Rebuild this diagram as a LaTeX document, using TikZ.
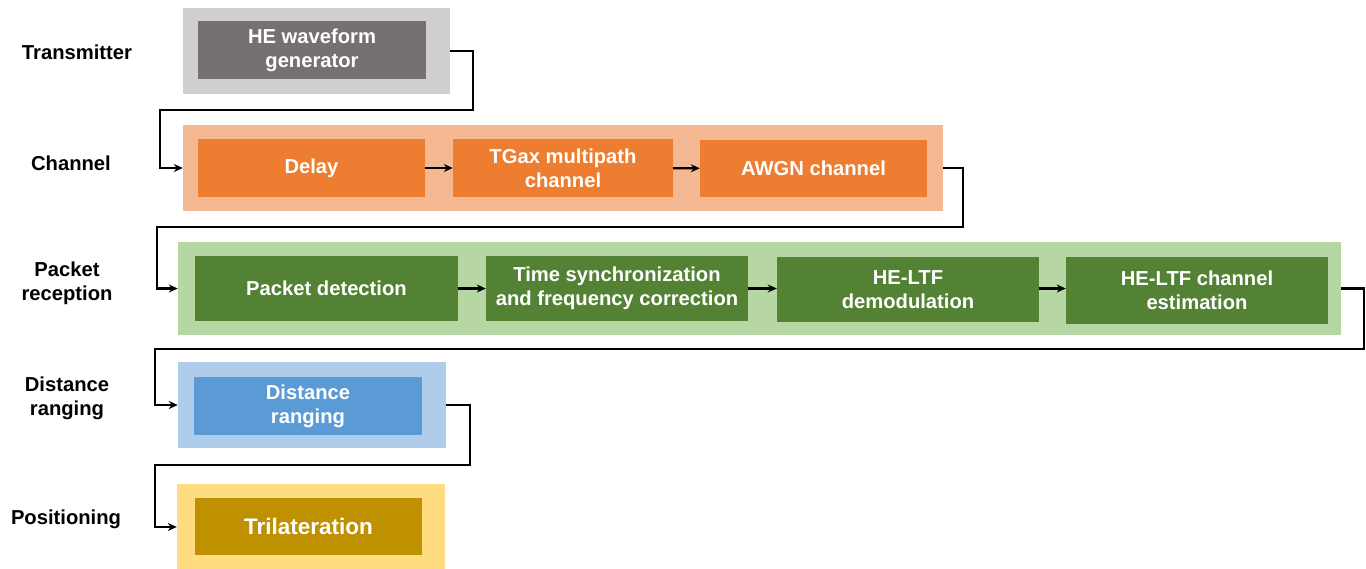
\documentclass[tikz,border=0pt]{standalone}
\usepackage{fontspec}
\setmainfont{Liberation Sans}
\usetikzlibrary{arrows.meta}
\definecolor{grayO}{HTML}{D0CECE}
\definecolor{grayI}{HTML}{767171}
\definecolor{orgO}{HTML}{F4B993}
\definecolor{orgI}{HTML}{ED7D31}
\definecolor{grnO}{HTML}{B6D7A4}
\definecolor{grnI}{HTML}{548235}
\definecolor{bluO}{HTML}{AFCDEA}
\definecolor{bluI}{HTML}{5B9BD5}
\definecolor{yelO}{HTML}{FFDC80}
\definecolor{yelI}{HTML}{BF9000}
\tikzset{
  outerbox/.style={rectangle, draw=none, inner sep=0pt},
  innerbox/.style={rectangle, draw=none, inner sep=0pt, text=white, align=center,
     font=\fontsize{20.2}{24}\selectfont\bfseries},
  rowlabel/.style={align=center, font=\fontsize{20.2}{24}\selectfont\bfseries, text=black},
  conn/.style={line width=2.2pt, -{Stealth[length=9pt,width=8pt]}, line join=miter},
}
\begin{document}
\begin{tikzpicture}[x=1pt,y=-1pt]
\useasboundingbox (0,0) rectangle (1366,568);
% outer boxes
\node[outerbox, fill=grayO, minimum width=267pt, minimum height=86pt] (tx) at (316.5,51) {};
\node[outerbox, fill=orgO, minimum width=760pt, minimum height=86pt] (ch) at (563,168) {};
\node[outerbox, fill=grnO, minimum width=1163pt, minimum height=93pt] (pr) at (759.5,288.5) {};
\node[outerbox, fill=bluO, minimum width=268pt, minimum height=86pt] (dr) at (312,405) {};
\node[outerbox, fill=yelO, minimum width=268pt, minimum height=86pt] (po) at (311,527) {};
% inner boxes
\node[innerbox, fill=grayI, minimum width=228pt, minimum height=58pt] (hewg) at (312,50) {HE waveform\\generator};
\node[innerbox, fill=orgI, minimum width=227pt, minimum height=58pt] (delay) at (311.5,168) {Delay};
\node[innerbox, fill=orgI, minimum width=220pt, minimum height=58pt] (tgax) at (563,168) {TGax multipath\\channel};
\node[innerbox, fill=orgI, minimum width=227pt, minimum height=57pt] (awgn) at (813.5,168.5) {AWGN channel};
\node[innerbox, fill=grnI, minimum width=263pt, minimum height=65pt] (pd) at (326.5,288.5) {Packet detection};
\node[innerbox, fill=grnI, minimum width=262pt, minimum height=65pt] (ts) at (617,288.5) {Time synchronization\\and frequency correction};
\node[innerbox, fill=grnI, minimum width=262pt, minimum height=65pt] (hd) at (908,289.5) {HE-LTF\\demodulation};
\node[innerbox, fill=grnI, minimum width=262pt, minimum height=67pt] (hc) at (1197,290.5) {HE-LTF channel\\estimation};
\node[innerbox, fill=bluI, minimum width=228pt, minimum height=58pt] (dri) at (308,406) {Distance\\ranging};
\node[innerbox, fill=yelI, minimum width=227pt, minimum height=57pt, font=\fontsize{22.5}{26}\selectfont\bfseries] (tri) at (308.5,526.5) {Trilateration};
% row labels
\node[rowlabel] (l1) at (77,52) {Transmitter};
\node[rowlabel] (l2) at (71,163) {Channel};
\node[rowlabel] (l3) at (67,283) {Packet\\reception};
\node[rowlabel] (l4) at (67,398) {Distance\\ranging};
\node[rowlabel] (l5) at (66,519) {Positioning};
% connectors within rows
\draw[conn] (delay) -- (tgax);
\draw[conn] (tgax) -- (awgn);
\draw[conn] (pd) -- (ts);
\draw[conn] (ts.east) -- (hd.west |- ts.east);
\draw[conn] (hd.east |- ts.east) -- (hc.west |- ts.east);
% connectors between rows
\coordinate (a1) at (473,110);
\coordinate (a2) at (963,227);
\coordinate (a3) at (1364,349);
\coordinate (a4) at (470,465);
\draw[conn] (tx.east) -| (a1) -- (160,110) |- (ch.west);
\draw[conn] (ch.east) -| (a2) -- (157,227) |- (pr.west);
\draw[conn] (pr.east) -| (a3) -- (155,349) |- (dr.west);
\draw[conn] (dr.east) -| (a4) -- (155,465) |- (po.west);
\end{tikzpicture}
\end{document}
